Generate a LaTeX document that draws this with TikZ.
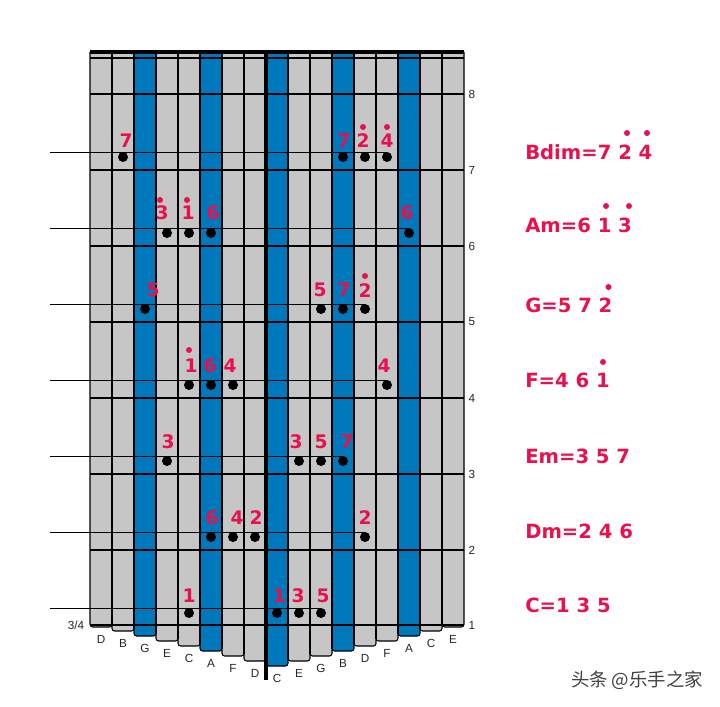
\documentclass[tikz,border=0pt]{standalone}
\usepackage{fontspec}
\setmainfont{Liberation Sans}
\newfontfamily\notefont{DejaVu Sans}[BoldFont={DejaVu Sans Bold}]
\newfontfamily\cjk{Noto Sans CJK SC}
\definecolor{tinegray}{HTML}{C6C6C6}
\definecolor{tineblue}{HTML}{0078BC}
\definecolor{notered}{HTML}{E8114E}
\tikzset{
  tine/.style={draw=black,line width=0.8pt,rounded corners=2pt},
  fret/.style={draw=black,line width=1.5pt},
  chordline/.style={draw=black,line width=0.7pt},
  fingerdot/.style={circle,fill=black,inner sep=0pt,minimum size=7.5pt},
  highdot/.style={circle,fill=notered,inner sep=0pt,minimum size=4.5pt},
  notenum/.style={text=notered,inner sep=0pt,font=\notefont\bfseries\fontsize{14}{14}\selectfont},
  chordname/.style={text=notered,inner sep=0pt,anchor=base west,font=\notefont\bfseries\fontsize{14.7}{14.7}\selectfont},
  keyname/.style={inner sep=0pt,text=black!85,font=\fontsize{8.8}{8.8}\selectfont},
}
\begin{document}
\begin{tikzpicture}[x=0.75pt,y=-0.75pt]
  \useasboundingbox (0,0) rectangle (720,706);

  % tines, left to right
  \foreach \x/\b/\c/\t [count=\i] in {90/627/tinegray/D, 112/631/tinegray/B, 134/636/tineblue/G,
      156/641/tinegray/E, 178/646/tinegray/C, 200/651/tineblue/A, 222/656/tinegray/F,
      244/661/tinegray/D, 266/666/tineblue/C, 288/661/tinegray/E, 310/656/tinegray/G,
      332/651/tineblue/B, 354/646/tinegray/D, 376/641/tinegray/F, 398/636/tineblue/A,
      420/631/tinegray/C, 442/627/tinegray/E} {
    \draw[tine,fill=\c] (\x,52) -- (\x,\b) -- (\x+22,\b) -- (\x+22,52);
    \node[keyname] (key\i) at (\x+11,\b+12) {\t};
  }
  % heavier edges between neighbours
  \foreach \x/\b in {112/627, 134/631, 156/636, 178/641, 200/646, 222/651, 244/656, 266/661,
      288/661, 310/656, 332/651, 354/646, 376/641, 398/636, 420/631, 442/627} {
    \draw[fret] (\x,52) -- (\x,\b-2);
  }

  % frets and their numbers
  \draw[fret] (90,58) -- (464,58);
  \foreach \y/\t in {94/8, 170/7, 246/6, 322/5, 398/4, 474/3, 550/2, 625/1} {
    \draw[fret] (90,\y) -- (464,\y);
    \node[keyname] (num\t) at (472,\y) {\t};
  }
  \node[keyname] (meter) at (76,625) {3/4};
  \draw[line width=3pt] (90,52) -- (464,52);
  \draw[line width=3pt] (266,50) -- (266,680);

  % finger dots
  \foreach \n/\x/\y in {bdimA/123/157, bdimB/343/157, bdimC/365/157, bdimD/387/157,
      amA/167/233, amB/189/233, amC/211/233, amD/409/233,
      gA/145/309, gB/321/309, gC/343/309, gD/365/309,
      fA/189/385, fB/211/385, fC/233/385, fD/387/385,
      emA/167/461, emB/299/461, emC/321/461, emD/343/461,
      dmA/211/537, dmB/233/537, dmC/255/537, dmD/365/537,
      cA/189/613, cB/277/613, cC/299/613, cD/321/613} {
    \node[fingerdot] (\n) at (\x,\y) {};
  }

  % chord lines
  \foreach \n/\y/\e in {bdim/152.5/bdimD, am/228.5/amD, g/304.5/gD, f/380.5/fD,
      em/456.5/emD, dm/532.5/dmD, c/608/cD} {
    \coordinate (start\n) at (50,\y);
    \draw[chordline] (start\n) -- (start\n -| \e);
  }

  % notes above the dots
  \foreach \x/\y/\t [count=\i] in {126/141/7, 344/141/7, 363/141/2, 387/141/4,
      162/213/3, 188/213/1, 213/213/6, 407/213/6,
      153/290/5, 320/290/5, 344/290/7, 365/291/2,
      191/366/1, 210/366/6, 230/366/4, 384/366/4,
      168/442/3, 296/442/3, 321/442/5, 347/442/7,
      212/518/6, 237/518/4, 256/518/2, 365/518/2,
      189/596/1, 279/596/1, 298/596/3, 323/596/5} {
    \node[notenum] (note\i) at (\x,\y) {\t};
  }
  \foreach \x/\y [count=\i] in {363/127, 387/127, 160/200, 187/200, 365/276, 189/350,
      627/133, 647/133, 606/206, 629/206, 608.5/287, 603/362} {
    \node[highdot] (high\i) at (\x,\y) {};
  }

  % chord names
  \foreach \y/\t [count=\i] in {159/{Bdim=7 2 4}, 232/{Am=6 1 3}, 312/{G=5 7 2}, 387/{F=4 6 1},
      463/{Em=3 5 7}, 538/{Dm=2 4 6}, 612/{C=1 3 5}} {
    \node[chordname] (chord\i) at (525,\y) {\t};
  }

  \node[inner sep=0pt,text=black!75,font=\cjk\fontsize{13.8}{13.8}\selectfont] (mark) at (637,680) {头条 @乐手之家};
\end{tikzpicture}
\end{document}
